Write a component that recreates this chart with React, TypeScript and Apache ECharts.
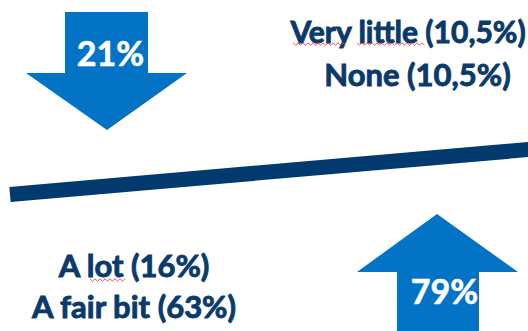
import React, { useEffect, useRef } from "react";
import * as echarts from "echarts";

// Data
const lowCategories = ["Very little", "None"];
const lowValues = [10.5, 10.5];
const highCategories = ["A lot", "A fair bit"];
const highValues = [16, 63];

const fmt = (v: number) => String(v).replace(".", ",");
const sum = (a: number[]) => a.reduce((s, v) => s + v, 0);

const NAVY = "#0a3a6c";
const LINE = "#023a70";
const BLUE = "#0373c6";
const FONT = "Lato";

export default function App() {
  const ref = useRef<HTMLDivElement>(null);
  useEffect(() => {
    if (!ref.current) return;
    const chart = echarts.init(ref.current, null, { renderer: "svg" });
    const lbl = (text: string, x: number, y: number, size = 30, color = NAVY, sw = 0.9) => ({
      type: "text",
      x,
      y,
      style: {
        text,
        fill: color,
        stroke: color,
        lineWidth: sw,
        font: `bold ${size}px ${FONT}`,
        textAlign: "center",
        textVerticalAlign: "middle",
      },
    });
    const squiggle = (x0: number, x1: number, y: number) => {
      const pts: number[][] = [];
      let up = true;
      for (let x = x0; x <= x1; x += 2.5) {
        pts.push([x, up ? y - 1.2 : y + 1.2]);
        up = !up;
      }
      return { type: "polyline", shape: { points: pts }, style: { stroke: "#e8403a", lineWidth: 0.9, fill: null } };
    };
    chart.setOption({
      animation: false,
      graphic: [
        {
          type: "polygon",
          shape: { points: [[65, 12], [148, 12], [148, 73], [187, 73], [107, 130], [26, 73], [65, 73]] },
          style: { fill: BLUE },
        },
        {
          type: "polygon",
          shape: { points: [[437, 214], [518, 272], [479, 272], [479, 340], [397, 340], [397, 272], [357, 272]] },
          style: { fill: BLUE },
        },
        {
          type: "line",
          shape: { x1: 10, y1: 194.5, x2: 540, y2: 148.5 },
          style: { stroke: LINE, lineWidth: 15, lineCap: "butt" },
        },
        lbl(`${fmt(sum(lowValues))}%`, 110.5, 52.5, 34, "#ffffff", 0.6),
        lbl(`${fmt(sum(highValues))}%`, 444.5, 290.5, 34, "#ffffff", 0.6),
        lbl(`${lowCategories[0]} (${fmt(lowValues[0])}%)`, 408, 31, 30),
        lbl(`${lowCategories[1]} (${fmt(lowValues[1])}%)`, 417.5, 73.5, 31),
        lbl(`${highCategories[0]} (${fmt(highValues[0])}%)`, 134, 264.5, 31),
        lbl(`${highCategories[1]} (${fmt(highValues[1])}%)`, 134, 306, 31),
        squiggle(293, 347, 44),
        squiggle(357, 425, 44),
        squiggle(90, 126, 280),
      ],
    });
    return () => chart.dispose();
  }, []);
  return (
    <div
      ref={ref}
      style={{ position: "absolute", left: 0, top: 0, width: 528, height: 331, background: "#ffffff" }}
    />
  );
}
